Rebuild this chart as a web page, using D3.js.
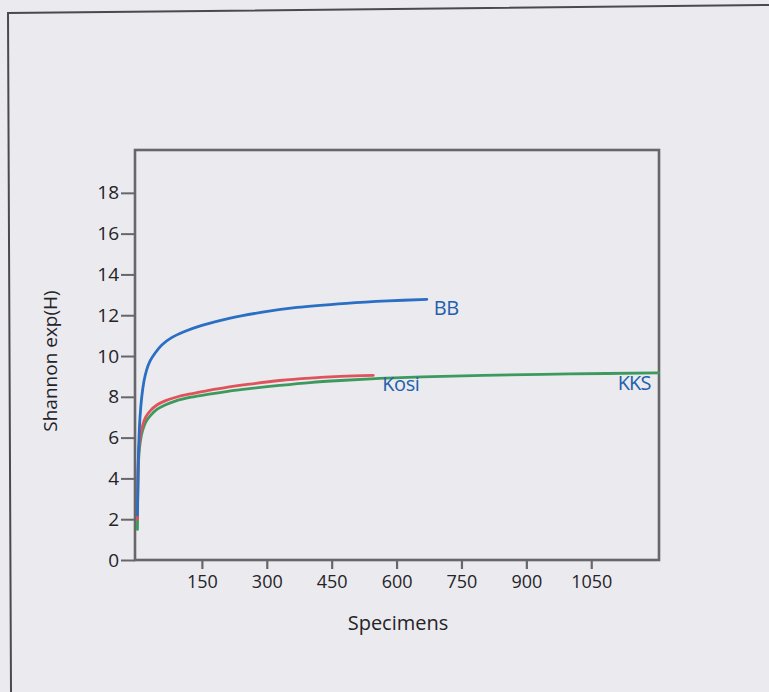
<!DOCTYPE html>
<html>
<head>
<meta charset="utf-8">
<script src="https://cdn.jsdelivr.net/npm/d3@7"></script>
<style>
  html, body { margin: 0; padding: 0; background: #ebeaee; }
  svg { display: block; }
  text { font-family: "Open Sans", "Noto Sans", sans-serif; }
</style>
</head>
<body>
<svg id="chart" width="769" height="692"></svg>
<script>
// ---- data ----
const seriesNames = ["BB", "Kosi", "KKS"];
const seriesColors = ["#2a6fc4", "#e0535a", "#3c9a5e"];
const bbSpecimens   = [1, 2, 4, 7, 11, 16, 22, 30, 42, 58, 80, 110, 150, 213, 290, 370, 484, 580, 670];
const bbValues      = [2.2, 3.8, 5.6, 7.0, 8.0, 8.75, 9.3, 9.75, 10.15, 10.55, 10.9, 11.2, 11.5, 11.85, 12.15, 12.38, 12.58, 12.7, 12.78];
const kosiSpecimens = [1, 2, 3, 5, 8, 13, 20, 30, 46, 65, 90, 125, 163, 210, 260, 330, 400, 470, 546];
const kosiValues    = [2.0, 3.8, 4.8, 5.6, 6.1, 6.6, 7.0, 7.3, 7.6, 7.8, 7.98, 8.15, 8.3, 8.47, 8.62, 8.8, 8.92, 9.0, 9.05];
const kksSpecimens  = [1, 2, 3, 5, 8, 13, 20, 30, 46, 65, 90, 125, 163, 210, 260, 330, 400, 470, 560, 660, 800, 1000, 1206];
const kksValues     = [1.5, 3.4, 4.5, 5.3, 5.85, 6.35, 6.75, 7.05, 7.38, 7.6, 7.8, 7.98, 8.12, 8.27, 8.4, 8.56, 8.7, 8.8, 8.9, 8.98, 9.05, 9.12, 9.17];
const xTicks = [150, 300, 450, 600, 750, 900, 1050];
const yTicks = [0, 2, 4, 6, 8, 10, 12, 14, 16, 18];
const xTitle = "Specimens";
const yTitle = "Shannon exp(H)";

const series = [
  { name: seriesNames[0], color: seriesColors[0], xs: bbSpecimens, ys: bbValues },
  { name: seriesNames[1], color: seriesColors[1], xs: kosiSpecimens, ys: kosiValues },
  { name: seriesNames[2], color: seriesColors[2], xs: kksSpecimens, ys: kksValues }
];

// ---- layout ----
const svg = d3.select("#chart");
const plot = { left: 135, right: 659, top: 150, bottom: 560 };
const x = d3.scaleLinear().domain([-4.6, 1206.6]).range([plot.left, plot.right]);
const y = d3.scaleLinear().domain([0, 20.1]).range([plot.bottom, plot.top]);

const axisColor = "#67666b";
const labelColor = "#242428";

// outer frame (photographed page box)
svg.append("path")
  .attr("d", "M11,692 L8,13 L769,5")
  .attr("fill", "none")
  .attr("stroke", "#4a4a4e")
  .attr("stroke-width", 2);

// plot box
svg.append("rect")
  .attr("x", plot.left).attr("y", plot.top)
  .attr("width", plot.right - plot.left).attr("height", plot.bottom - plot.top)
  .attr("fill", "none")
  .attr("stroke", axisColor)
  .attr("stroke-width", 2.6);

// y axis
const yAxis = d3.axisLeft(y).tickValues(yTicks).tickSize(14).tickPadding(2).tickFormat(d3.format("d"));
const gy = svg.append("g").attr("transform", `translate(${plot.left},0)`).call(yAxis);
gy.select(".domain").remove();
gy.selectAll(".tick line").attr("stroke", axisColor).attr("stroke-width", 2);
gy.selectAll(".tick text").attr("fill", labelColor).attr("font-size", 19).attr("font-family", "Open Sans, sans-serif");

// x axis
const xAxis = d3.axisBottom(x).tickValues(xTicks).tickSize(9).tickPadding(6).tickFormat(d3.format("d"));
const gx = svg.append("g").attr("transform", `translate(0,${plot.bottom})`).call(xAxis);
gx.select(".domain").remove();
gx.selectAll(".tick line").attr("stroke", axisColor).attr("stroke-width", 2.2);
gx.selectAll(".tick text").attr("fill", labelColor).attr("font-size", 18).attr("font-family", "Open Sans, sans-serif");

// axis titles
svg.append("text")
  .attr("x", 398).attr("y", 630)
  .attr("text-anchor", "middle")
  .attr("font-size", 20).attr("fill", labelColor)
  .text(xTitle);

svg.append("text")
  .attr("transform", `translate(57,${(plot.top + plot.bottom) / 2 + 6}) rotate(-90)`)
  .attr("text-anchor", "middle")
  .attr("font-size", 19).attr("fill", labelColor)
  .text(yTitle);

// lines (draw KKS first, then Kosi, then BB)
const line = d3.line().x(d => x(d[0])).y(d => y(d[1])).curve(d3.curveCatmullRom.alpha(0.5));
const drawOrder = [2, 1, 0];
drawOrder.forEach(i => {
  const s = series[i];
  const pts = s.xs.map((v, j) => [v, s.ys[j]]);
  svg.append("path")
    .datum(pts)
    .attr("d", line)
    .attr("fill", "none")
    .attr("stroke", s.color)
    .attr("stroke-width", 2.8)
    .attr("stroke-linecap", "round");
});

// series labels
const labelFill = "#2160ab";
function lastPoint(s) { return [s.xs[s.xs.length - 1], s.ys[s.ys.length - 1]]; }
const bbEnd = lastPoint(series[0]);
svg.append("text")
  .attr("x", x(bbEnd[0]) + 7).attr("y", y(bbEnd[1]) + 16)
  .attr("font-size", 20).attr("fill", labelFill).attr("letter-spacing", "-0.6")
  .text(series[0].name);
const kosiEnd = lastPoint(series[1]);
svg.append("text")
  .attr("x", x(kosiEnd[0]) + 9).attr("y", y(kosiEnd[1]) + 16)
  .attr("font-size", 20).attr("fill", labelFill).attr("letter-spacing", "-0.4")
  .text(series[1].name);
const kksEnd = lastPoint(series[2]);
svg.append("text")
  .attr("x", x(kksEnd[0]) - 8).attr("y", y(kksEnd[1]) + 17)
  .attr("text-anchor", "end")
  .attr("font-size", 20).attr("fill", labelFill).attr("letter-spacing", "-0.8")
  .text(series[2].name);
</script>
</body>
</html>
